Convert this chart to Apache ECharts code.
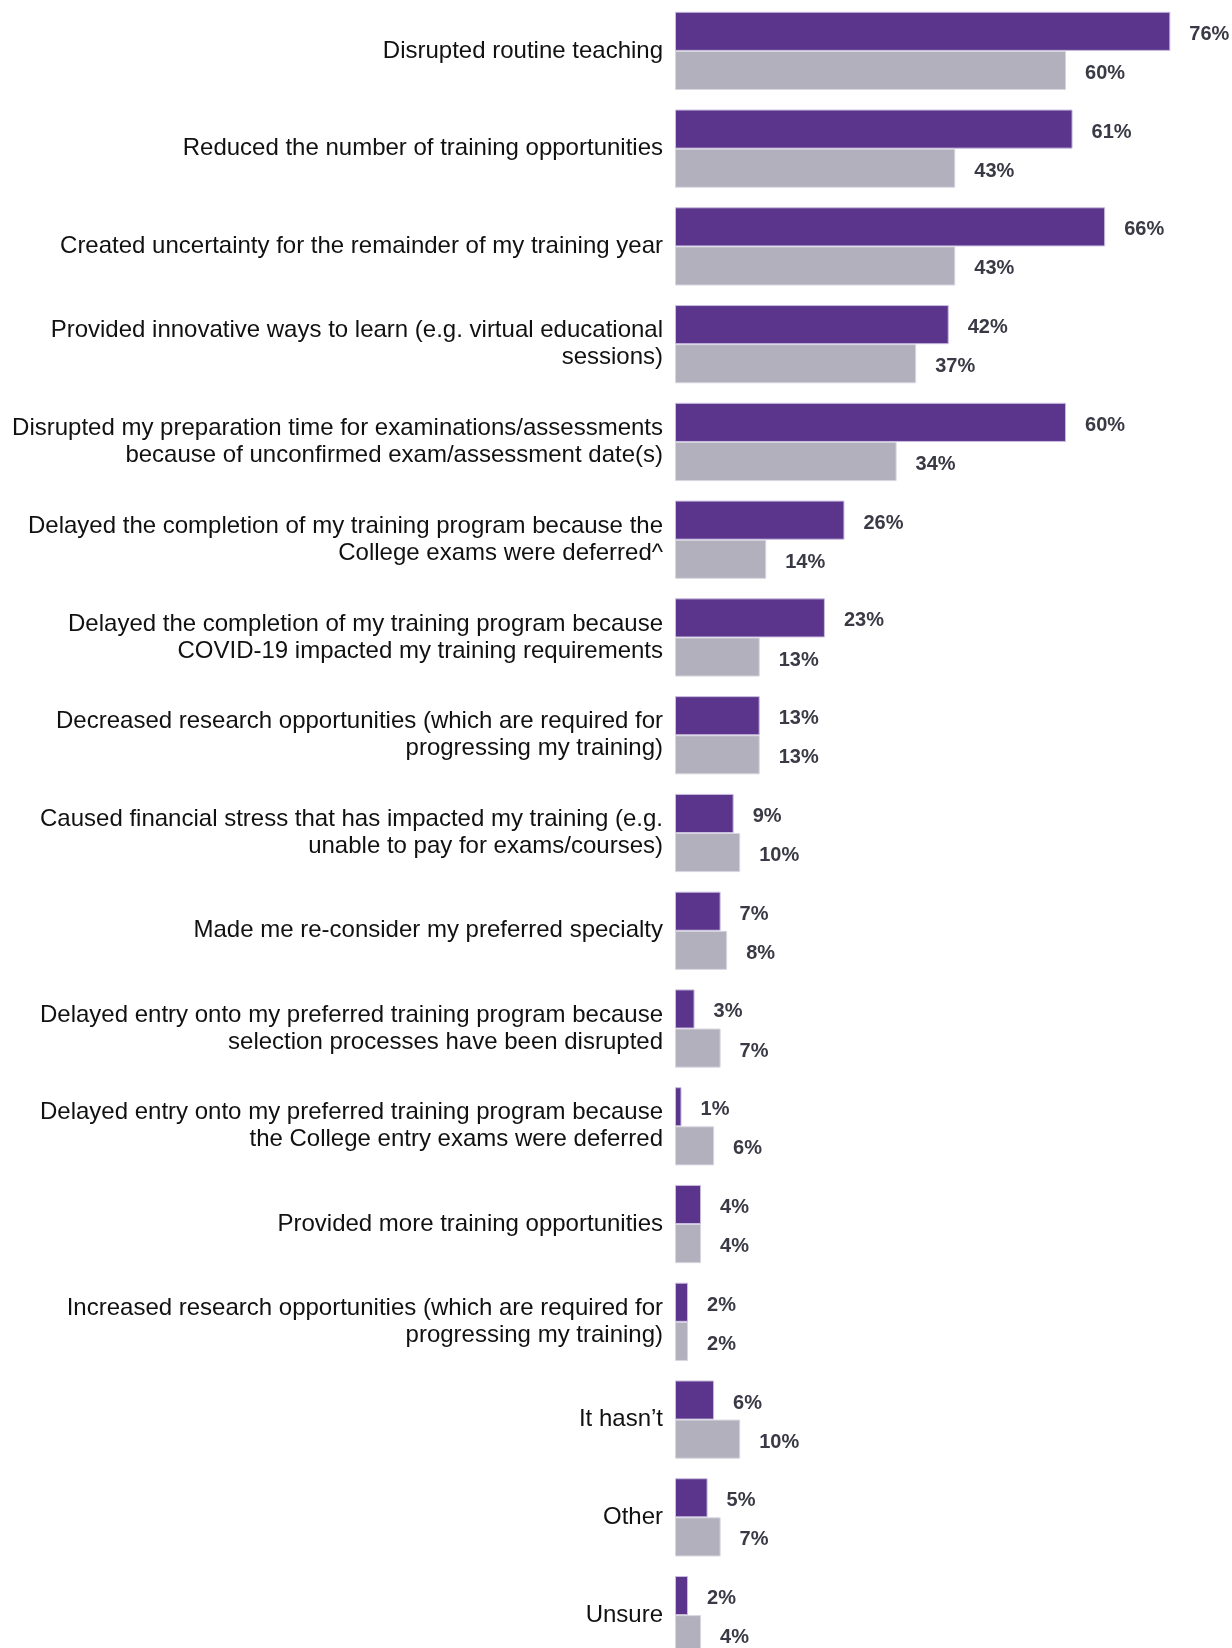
<!DOCTYPE html>
<html>
<head>
<meta charset="utf-8">
<script src="https://cdn.jsdelivr.net/npm/echarts@6/dist/echarts.min.js"></script>
<style>
  html, body { margin: 0; padding: 0; background: #fff; overflow: hidden; }
  #chart { width: 1232px; height: 1670px; }
</style>
</head>
<body>
<div id="chart"></div>
<script>
// impact categories, top to bottom
const categories = [
  'Disrupted routine teaching',
  'Reduced the number of training opportunities',
  'Created uncertainty for the remainder of my training year',
  'Provided innovative ways to learn (e.g. virtual educational\nsessions)',
  'Disrupted my preparation time for examinations/assessments\nbecause of unconfirmed exam/assessment date(s)',
  'Delayed the completion of my training program because the\nCollege exams were deferred^',
  'Delayed the completion of my training program because\nCOVID-19 impacted my training requirements',
  'Decreased research opportunities (which are required for\nprogressing my training)',
  'Caused financial stress that has impacted my training (e.g.\nunable to pay for exams/courses)',
  'Made me re-consider my preferred specialty',
  'Delayed entry onto my preferred training program because\nselection processes have been disrupted',
  'Delayed entry onto my preferred training program because\nthe College entry exams were deferred',
  'Provided more training opportunities',
  'Increased research opportunities (which are required for\nprogressing my training)',
  'It hasn\u2019t',
  'Other',
  'Unsure'
];
const purpleValues = [76, 61, 66, 42, 60, 26, 23, 13, 9, 7, 3, 1, 4, 2, 6, 5, 2];
const greyValues   = [60, 43, 43, 37, 34, 14, 13, 13, 10, 8, 7, 6, 4, 2, 10, 7, 4];

const chart = echarts.init(document.getElementById('chart'));

const valueLabel = {
  show: true,
  position: 'right',
  distance: 19,
  offset: [0, 3],
  formatter: '{c}%',
  color: '#3a3a46',
  fontFamily: 'Liberation Sans, Arial, sans-serif',
  fontWeight: 'bold',
  fontSize: 20
};

chart.setOption({
  animation: false,
  grid: { left: 675, top: 2, width: 554, height: 1662, containLabel: false },
  xAxis: { type: 'value', min: 0, max: 85, show: false },
  yAxis: {
    type: 'category',
    data: categories,
    inverse: true,
    axisLine: { show: false },
    axisTick: { show: false },
    axisLabel: {
      margin: 12,
      color: '#111',
      fontFamily: 'Liberation Sans, Arial, sans-serif',
      fontSize: 24,
      lineHeight: 27,
      align: 'right',
      padding: [5, 0, 0, 0]
    }
  },
  series: [
    {
      type: 'bar',
      data: purpleValues,
      barGap: '0%',
      barCategoryGap: '20%',
      itemStyle: { color: '#5a358b', borderColor: '#c9bde0', borderWidth: 1 },
      label: valueLabel
    },
    {
      type: 'bar',
      data: greyValues,
      itemStyle: { color: '#b1b0bc', borderColor: '#d8d7e0', borderWidth: 1 },
      label: valueLabel
    }
  ]
});
</script>
</body>
</html>
